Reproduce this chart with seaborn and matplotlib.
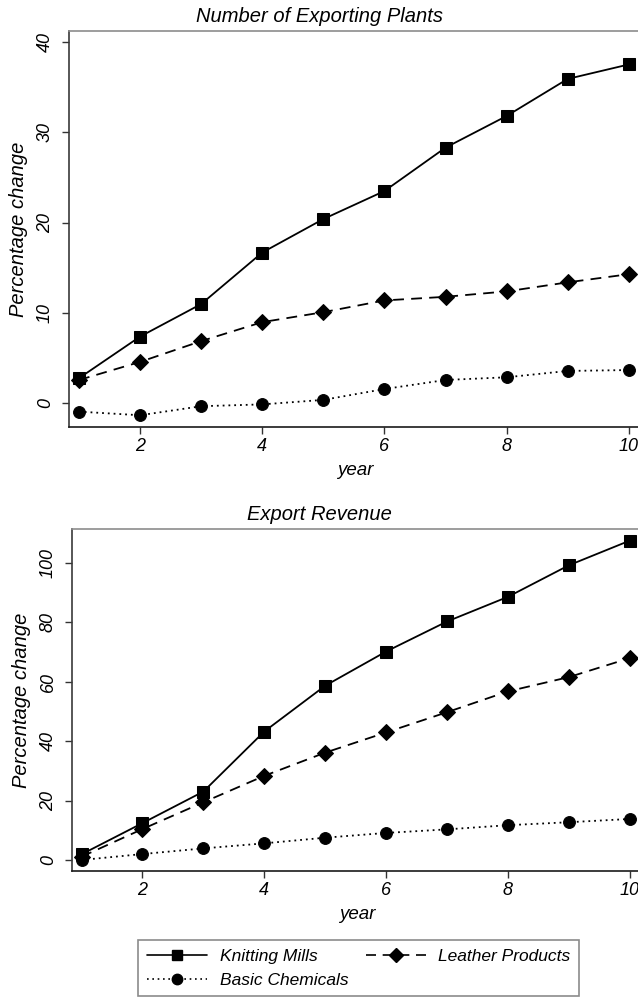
import matplotlib
matplotlib.use("Agg")
import matplotlib.pyplot as plt
import seaborn as sns
import pandas as pd
from matplotlib.lines import Line2D

# Percentage change by year, three industries
years = [1, 2, 3, 4, 5, 6, 7, 8, 9, 10]

plants_knitting = [2.8, 7.4, 11.0, 16.7, 20.4, 23.5, 28.3, 31.8, 35.9, 37.5]
plants_leather = [2.6, 4.6, 6.9, 9.0, 10.1, 11.4, 11.8, 12.4, 13.4, 14.3]
plants_chemicals = [-0.9, -1.3, -0.3, -0.1, 0.4, 1.6, 2.6, 2.9, 3.6, 3.7]

revenue_knitting = [2.0, 12.5, 23.1, 43.3, 58.7, 70.2, 80.3, 88.6, 99.2, 107.5]
revenue_leather = [1.2, 10.5, 19.5, 28.4, 36.2, 43.0, 49.8, 56.8, 61.6, 68.0]
revenue_chemicals = [0.1, 2.1, 4.0, 5.7, 7.6, 9.2, 10.4, 11.8, 12.8, 13.9]

series_names = ["Knitting Mills", "Leather Products", "Basic Chemicals"]
x_ticks = [2, 4, 6, 8, 10]
plants_ticks = [0, 10, 20, 30, 40]
revenue_ticks = [0, 20, 40, 60, 80, 100]

sns.set_theme(style="white")
plt.rcParams["font.family"] = ["Liberation Sans", "DejaVu Sans"]
plt.rcParams["font.style"] = "italic"
for key in ["text.color", "axes.labelcolor", "xtick.color", "ytick.color"]:
    plt.rcParams[key] = "black"

styles = {
    "Knitting Mills": dict(marker="s", linestyle="-", markersize=8.5),
    "Leather Products": dict(marker="D", linestyle=(0, (6, 4)), markersize=8.5),
    "Basic Chemicals": dict(marker="o", linestyle=(0, (1, 2.2)), markersize=8.5),
}


def long_frame(values):
    rows = []
    for name, vals in zip(series_names, values):
        for yr, v in zip(years, vals):
            rows.append({"year": yr, "value": v, "series": name})
    return pd.DataFrame(rows)


def draw_panel(ax, df, yticks, ylim, xlim):
    for name in series_names:
        st = styles[name]
        sns.lineplot(data=df[df["series"] == name], x="year", y="value", ax=ax,
                     color="black", linewidth=1.3, linestyle=st["linestyle"],
                     marker=st["marker"], markersize=st["markersize"],
                     markeredgecolor="black", markerfacecolor="black",
                     legend=False, errorbar=None)
    ax.set_xlim(*xlim)
    ax.set_ylim(*ylim)
    ax.set_xticks(x_ticks)
    ax.set_xticklabels([str(t) for t in x_ticks], fontsize=13, style="italic")
    ax.set_yticks(yticks)
    ax.set_yticklabels([str(t) for t in yticks], fontsize=13, style="italic",
                       rotation=90, va="center")
    ax.tick_params(axis="both", direction="out", length=5, width=1,
                   color="#333333", bottom=True, left=True)
    ax.tick_params(axis="y", pad=6)
    ax.tick_params(axis="x", pad=3)
    ax.set_xlabel("year", fontsize=13.5, style="italic", labelpad=5)
    ax.set_ylabel("Percentage change", fontsize=14.5, style="italic", labelpad=6)
    ax.spines["top"].set_color("#8c8c8c")
    ax.spines["right"].set_color("#8c8c8c")
    ax.spines["left"].set_color("#3a3a3a")
    ax.spines["bottom"].set_color("#1a1a1a")
    for sp in ax.spines.values():
        sp.set_linewidth(1.2)
    ax.grid(False)


fig = plt.figure(figsize=(6.38, 9.99), dpi=100)

ax1 = fig.add_axes([69 / 638, 1 - 427 / 999, 572 / 638, (427 - 31) / 999])
ax2 = fig.add_axes([72 / 638, 1 - 871 / 999, 570 / 638, (871 - 529) / 999])

draw_panel(ax1, long_frame([plants_knitting, plants_leather, plants_chemicals]),
           plants_ticks, (-2.6, 41.2), (0.836, 10.2))
draw_panel(ax2, long_frame([revenue_knitting, revenue_leather, revenue_chemicals]),
           revenue_ticks, (-3.6, 111.4), (0.844, 10.2))

fig.text(0.5, 1 - 17 / 999, "Number of Exporting Plants", ha="center", va="center",
         fontsize=14.5, style="italic")
fig.text(0.5, 1 - 514 / 999, "Export Revenue", ha="center", va="center",
         fontsize=14.5, style="italic")

# legend filled column-wise: Knitting / Chemicals in column one, Leather in column two
legend_order = ["Knitting Mills", "Basic Chemicals", "Leather Products"]
handles = [
    Line2D([], [], color="black", linewidth=1.2, linestyle=styles[n]["linestyle"],
           marker=styles[n]["marker"], markersize=7.5, markerfacecolor="black")
    for n in legend_order
]
leg = fig.legend(handles, legend_order, loc="upper left",
                 bbox_to_anchor=(138 / 638, 1 - 940 / 999), ncol=2,
                 frameon=True, fancybox=False, handlelength=3.5,
                 handletextpad=0.7, columnspacing=1.0, borderpad=0.5,
                 labelspacing=0.5, borderaxespad=0,
                 prop={"style": "italic", "size": 12.5})
leg.get_frame().set_edgecolor("#6e6e6e")
leg.get_frame().set_linewidth(1.2)

fig.savefig("out.png", dpi=100)
